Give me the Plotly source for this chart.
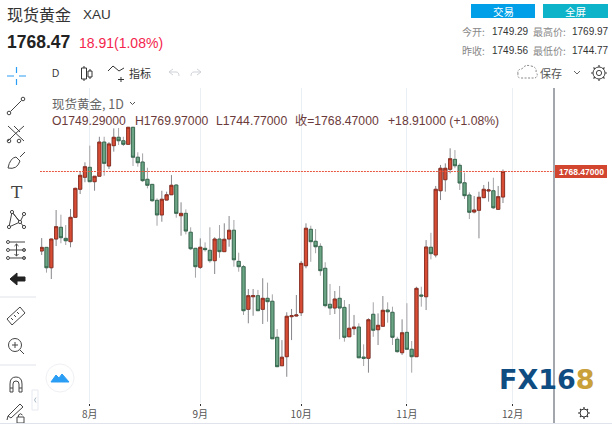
import re
import plotly.graph_objects as go

W, H = 612, 426

trading_day = list(range(97))
open_price = [1708.7,1711.4,1696.1,1717.7,1726.5,1718.2,1715.7,1734.0,1755.1,1764.1,1771.6,1760.8,1764.9,1790.6,1772.6,1787.9,1794.2,1791.6,1788.9,1801.7,
 1779.2,1775.6,1762.6,1758.8,1746.8,1735.8,1747.0,1751.0,1758.3,1735.2,1737.0,1722.8,1710.7,1696.4,1710.7,1709.2,1701.4,1717.7,1708.2,1717.7,
 1724.3,1700.9,1696.9,1664.8,1674.3,1675.1,1664.8,1673.1,1670.9,1643.8,1622.4,1629.2,1659.3,1659.8,1662.3,1697.6,1725.0,1716.0,1712.2,1695.7,
 1668.6,1665.8,1673.1,1666.3,1644.2,1650.3,1651.5,1628.9,1628.0,1661.1,1649.5,1652.1,1664.3,1662.6,1642.3,1632.2,1647.5,1634.8,1629.2,1675.6,
 1674.3,1711.5,1705.7,1754.0,1762.3,1770.1,1777.6,1773.1,1760.0,1750.8,1738.0,1739.3,1748.8,1753.8,1754.0,1740.0,1749.29]
high_price = [1718.4,1711.7,1717.9,1739.5,1736.0,1728.2,1740.3,1756.3,1768.1,1775.4,1787.9,1765.1,1794.6,1794.6,1790.6,1800.9,1801.2,1794.6,1802.0,1802.0,
 1782.9,1782.1,1771.3,1759.0,1748.3,1754.0,1753.3,1765.8,1758.8,1745.3,1740.0,1726.5,1711.0,1718.2,1715.2,1726.5,1719.0,1728.2,1729.5,1735.0,
 1732.0,1707.4,1698.2,1680.1,1680.1,1679.4,1688.2,1684.9,1676.1,1650.0,1641.7,1662.6,1665.1,1675.6,1701.2,1729.5,1727.7,1725.2,1714.5,1700.2,
 1683.9,1678.6,1682.4,1671.8,1668.8,1660.6,1654.3,1638.5,1658.1,1670.1,1661.8,1674.8,1670.1,1666.8,1644.2,1657.3,1669.4,1641.0,1681.8,1681.8,
 1716.9,1722.4,1757.6,1773.4,1774.6,1785.9,1784.6,1774.6,1767.6,1752.8,1750.0,1753.3,1758.3,1760.8,1763.8,1757.6,1769.97]
low_price = [1705.7,1692.4,1687.6,1712.4,1714.5,1713.2,1711.5,1733.8,1751.5,1760.4,1760.6,1754.0,1764.7,1765.3,1770.3,1783.4,1788.4,1787.6,1788.7,1772.6,
 1772.1,1760.6,1755.8,1745.8,1727.7,1730.7,1746.8,1750.8,1733.7,1720.2,1721.2,1709.4,1688.6,1695.2,1708.2,1699.9,1691.4,1703.6,1708.0,1711.9,
 1696.9,1693.1,1660.6,1654.3,1660.0,1663.6,1653.8,1655.5,1642.5,1621.5,1622.2,1614.1,1641.7,1659.4,1659.8,1695.7,1700.6,1707.0,1690.1,1666.3,
 1660.6,1661.3,1642.3,1640.5,1644.0,1645.5,1628.2,1622.2,1617.2,1644.2,1638.0,1651.9,1654.8,1638.0,1632.2,1630.5,1634.6,1617.2,1629.0,1666.8,
 1664.3,1702.4,1703.9,1747.0,1753.3,1767.1,1770.9,1754.6,1747.8,1732.7,1737.0,1718.2,1748.6,1745.8,1740.3,1739.5,1744.77]
close_price = [1711.4,1696.1,1717.7,1727.0,1718.7,1716.4,1734.0,1755.8,1765.6,1772.1,1760.8,1764.9,1790.6,1774.6,1789.2,1794.2,1791.6,1788.9,1801.7,1779.2,
 1775.1,1761.6,1758.1,1746.5,1735.8,1747.6,1751.0,1758.1,1737.0,1737.0,1723.7,1710.4,1696.9,1711.5,1709.7,1701.4,1717.7,1708.2,1717.5,1724.3,
 1702.1,1696.9,1663.8,1675.1,1675.1,1663.8,1673.1,1670.6,1642.7,1621.7,1628.8,1659.6,1660.0,1660.6,1699.4,1725.8,1715.7,1711.9,1693.9,1667.6,
 1665.8,1672.6,1665.8,1643.8,1650.6,1651.5,1628.4,1628.0,1657.0,1649.1,1652.8,1664.1,1663.0,1643.8,1633.0,1647.2,1634.8,1629.2,1680.6,1674.8,
 1711.7,1706.7,1755.1,1770.9,1770.9,1778.1,1772.8,1759.8,1750.3,1737.8,1739.5,1749.1,1755.1,1754.6,1741.2,1749.56,1768.47]

month_ticks = [10, 33, 54, 76, 98]
month_labels = ["8月", "9月", "10月", "11月", "12月"]
last_price = 1768.47

# ---- page-pixel helpers for the surrounding UI chrome
def px(x): return x / W
def py(y): return 1 - y / H

def path(d):
    nums = iter(re.findall(r"[A-Za-z]|-?\d+\.?\d*", d))
    out = []
    for t in nums:
        if t.isalpha():
            out.append(t)
            if t == "Z":
                continue
        else:
            out.append(f"{px(float(t)):.5f},{py(float(next(nums))):.5f}")
    return " ".join(out)

shapes, annos = [], []

def icon(d, color="#3a3f4b", w=1.0, fill=None, dash=None):
    line = dict(color=color, width=w)
    if dash: line["dash"] = dash
    s = dict(type="path", xref="paper", yref="paper", path=path(d), line=line, layer="above")
    if fill: s["fillcolor"] = fill
    shapes.append(s)

def rect(x0, y0, x1, y1, fill, line=None):
    shapes.append(dict(type="rect", xref="paper", yref="paper", x0=px(x0), x1=px(x1), y0=py(y0), y1=py(y1),
                       fillcolor=fill, line=dict(width=1 if line else 0, color=line or fill), layer="above"))

def circle(cx, cy, r, color="#3a3f4b", w=1.0, fill=None):
    shapes.append(dict(type="circle", xref="paper", yref="paper", x0=px(cx-r), x1=px(cx+r), y0=py(cy+r), y1=py(cy-r),
                       line=dict(color=color, width=w), fillcolor=fill or "rgba(0,0,0,0)", layer="above"))

def text(x, y, s, size=11, color="#333", anchor="left", family="Liberation Sans, Noto Sans CJK SC", bold=False):
    annos.append(dict(xref="paper", yref="paper", x=px(x), y=py(y), text=f"<b>{s}</b>" if bold else s,
                      showarrow=False, xanchor=anchor, yanchor="middle", borderpad=0, borderwidth=0,
                      font=dict(size=size, color=color, family=family)))

CJK = "Noto Sans CJK SC"
# header
text(7, 14, "现货黄金", 16, "#333", family=CJK)
text(83, 14, "XAU", 13.5, "#333", family="Liberation Sans")
text(7, 42, "1768.47", 17.5, "#222", bold=True)
text(79, 43, "18.91(1.08%)", 14, "#f4254d")
# buttons and quote block
rect(471, 4, 535, 18, "#009fe8"); text(503, 11, "交易", 10.5, "#fff", "center", CJK)
rect(543, 4, 608, 18, "#0db3c8"); text(575.5, 11, "全屏", 10.5, "#fff", "center", CJK)
text(462, 31, "今开:", 10, "#888", family=CJK); text(492, 31, "1749.29", 10, "#333")
text(533, 31, "最高价:", 10, "#888", family=CJK); text(572, 31, "1769.97", 10, "#333")
text(462, 50, "昨收:", 10, "#888", family=CJK); text(492, 50, "1749.56", 10, "#333")
text(533, 50, "最低价:", 10, "#888", family=CJK); text(572, 50, "1744.77", 10, "#333")
# top toolbar
text(52, 73, "D", 10, "#333")
text(129, 73, "指标", 11, "#333", family=CJK)
text(540, 73, "保存", 11, "#555", family=CJK)
icon("M7 76 L14 76 M19 76 L26 76 M16.5 67 L16.5 73 M16.5 79 L16.5 85", "#2a9df4", 1.2)
icon("M84 66 L84 68 M84 79 L84 81 M81.5 68 L86.5 68 L86.5 79 L81.5 79 Z", "#333")
icon("M90 69 L90 71 M90 77 L90 79 M88 71 L92 71 L92 77 L88 77 Z", "#333")
icon("M108 71 L113 66 L119 71 L124 68 M121 77 L121 82 M118 79.5 L124 79.5", "#333")
icon("M169 72 L173 69 M169 72 L173 75 M169 72 L176 72 Q179 72 179 76", "#cfd2d8")
icon("M201 72 L197 69 M201 72 L197 75 M201 72 L194 72 Q191 72 191 76", "#cfd2d8")
icon("M518 74 Q517 69 522 69 Q525 64 531 66 Q537 67 536 72 Q539 76 535 78 L521 78 Q517 78 518 74", "#888", 1, dash="2px,1.5px")
icon("M574 71 L577 74 L580 71", "#666")
circle(599, 73, 6, "#444", 1.0); circle(599, 73, 2.6, "#444", 1.0)
icon("M599 65 L599 67 M599 79 L599 81 M591 73 L593 73 M605 73 L607 73 M593.5 67.5 L595 69 M603 77 L604.5 78.5 M604.5 67.5 L603 69 M595 77 L593.5 78.5", "#444", 1.2)
# chart legend
text(52, 103, "现货黄金, 1D", 12.5, "#666", family=CJK)
icon("M130 102 L132.5 104.5 L135 102", "#555")
ohlc = "#6b3a3a"
text(52, 121, "O1749.29000", 12.2, ohlc); text(135, 121, "H1769.97000", 12.2, ohlc)
text(216, 121, "L1744.77000", 12.2, ohlc); text(295, 121, "收=1768.47000", 12.2, ohlc)
text(388, 121, "+18.91000 (+1.08%)", 12.2, ohlc)
# left toolbar
c = "#444"
circle(9, 113, 1.8, c); circle(23, 99, 1.8, c); icon("M10.5 111.5 L21.5 100.5", c)
icon("M8 126 L24 141 M24 126 L15 134 L8 141 M14 126 L20 132", c); circle(9, 141, 1.8, c); circle(19, 141, 1.8, c)
icon("M8 168 Q10 158 16 157 L20 161 Q17 170 8 168 M20 157 L25 152", c)
text(16.5, 192, "T", 17, c, "center", "DejaVu Serif")
icon("M9 227 L12 212 L20 222 L24 214 M9 227 L20 222 M12 212 L24 227", c)
for a, b in [(9, 227), (12, 212), (20, 222), (24, 214), (24, 227)]:
    circle(a, b, 1.6, c, fill="#fff")
icon("M10 242 L25 242 M10 250 L25 250 M10 258 L25 258 M16.5 244 L16.5 256 M14.5 246 L16.5 244 L18.5 246 M14.5 254 L16.5 256 L18.5 254", c)
for a, b in [(8, 242), (8, 250), (8, 258), (24, 250), (24, 258)]:
    circle(a, b, 1.5, c)
icon("M10 279 L17 273 L17 277 L25 277 L25 281 L17 281 L17 285 Z", "#222", 1, fill="#222")
shapes.append(dict(type="line", xref="paper", yref="paper", x0=0, x1=px(36), y0=py(297), y1=py(297), line=dict(color="#e0e3eb", width=1)))
icon("M7 319 L20 307 L25 313 L12 325 Z M11 318 L13 320 M14 315 L16 317 M17 312 L19 314", c)
circle(15, 345, 6.5, c); icon("M20 350 L24 354 M12 345 L18 345 M15 342 L15 348", c)
shapes.append(dict(type="line", xref="paper", yref="paper", x0=0, x1=px(36), y0=py(365), y1=py(365), line=dict(color="#e0e3eb", width=1)))
icon("M10 392 L10 384 Q10 377 16 377 Q22 377 22 384 L22 392 L19 392 L19 384 Q19 381 16 381 Q13 381 13 384 L13 392 Z M10 388 L13 388 M19 388 L22 388", c)
icon("M8 416 L11 418 L23 407 L20 404 Z M8 416 L7 420", c)
rect(17, 417, 24, 423, "#fff", c); icon("M18.5 417 L18.5 415 Q20.5 412.5 22.5 415", c)
shapes.append(dict(type="rect", xref="paper", yref="paper", x0=px(32), x1=px(38), y0=py(410), y1=py(390),
                   line=dict(color="#e6e9ef", width=1), fillcolor="#fff", layer="above"))
icon("M36 397.5 L34.5 400 L36 402.5", "#a9b8c9")
# floating circle button
circle(60, 378, 14, "#eef0f4", 1, "#fff")
icon("M51 382 L56 375 L59 378 L62 374 L69 382 Z", "#2a9df4", 1, fill="#2a9df4")
# right side: last-price tag, settings gear
rect(555, 165, 607, 178, "#d2452f")
text(581, 171.5, "<b>1768.47000</b>", 8.5, "#fff", "center")
circle(584, 413, 4, "#333", 1.0)
icon("M584 407 L584 409 M584 417 L584 419 M578 413 L580 413 M588 413 L590 413 M580 409 L581 410 M587 416 L588 417 M588 409 L587 410 M581 416 L580 417", "#333", 1.2)
# plot frame lines
shapes.append(dict(type="line", xref="paper", yref="paper", x0=px(554), x1=px(554), y0=py(423), y1=py(88), line=dict(color="#868993", width=1.5), layer="above"))
shapes.append(dict(type="line", xref="paper", yref="paper", x0=0, x1=1, y0=py(423.5), y1=py(423.5), line=dict(color="#e0e3eb", width=1)))
# logo
annos.append(dict(xref="paper", yref="paper", x=px(497), y=py(379), showarrow=False, xanchor="left", yanchor="middle",
                  text="<b><span style='color:#0f4c81'>FX16</span><span style='color:#c9a03a'>8</span></b>",
                  font=dict(size=27, family="DejaVu Sans", color="#0f4c81")))

# last price line
shapes.append(dict(type="line", xref="x", yref="y", x0=-1, x1=107, y0=last_price, y1=last_price,
                   line=dict(color="#e8563f", width=1, dash="2px,1px"), layer="above"))

fig = go.Figure()
# wicks underneath
fig.add_trace(go.Candlestick(x=trading_day, open=open_price, high=high_price, low=low_price, close=close_price,
    increasing=dict(line=dict(color="#86868b", width=1), fillcolor="#86868b"),
    decreasing=dict(line=dict(color="#a5a5a9", width=1), fillcolor="#a5a5a9"),
    showlegend=False, hoverinfo="skip"))
# bodies on top
fig.add_trace(go.Candlestick(x=trading_day, open=open_price, close=close_price,
    high=[max(o, k) for o, k in zip(open_price, close_price)],
    low=[min(o, k) for o, k in zip(open_price, close_price)],
    increasing=dict(line=dict(color="#8c2a1c", width=0.8), fillcolor="#d64c34"),
    decreasing=dict(line=dict(color="#2c5f44", width=0.8), fillcolor="#6ca586"),
    showlegend=False, hoverinfo="skip"))

x_left = (40 - 41.7) / 4.805
x_right = (554 - 41.7) / 4.805
y_top = 1897.44 - 0.752 * 88
y_bot = 1897.44 - 0.752 * 403

fig.update_layout(
    width=W, height=H, margin=dict(l=0, r=0, t=0, b=0), paper_bgcolor="#fff", plot_bgcolor="#fff",
    showlegend=False, shapes=shapes, annotations=annos, boxgap=0.05,
    xaxis=dict(domain=[px(40), px(554)], range=[x_left, x_right], rangeslider=dict(visible=False),
               tickvals=month_ticks, ticktext=month_labels, showgrid=True, gridcolor="#e9eff2", gridwidth=1,
               ticks="outside", ticklen=2, tickcolor="#333", showline=False, zeroline=False,
               tickfont=dict(size=10, color="#555", family=CJK)),
    yaxis=dict(domain=[py(403), py(88)], range=[y_bot, y_top], showgrid=False, showticklabels=False,
               ticks="", zeroline=False, showline=False),
)
fig.write_html("out.html", config=dict(displayModeBar=False),
               post_script="document.body.style.margin='0';document.body.style.overflow='hidden';")
